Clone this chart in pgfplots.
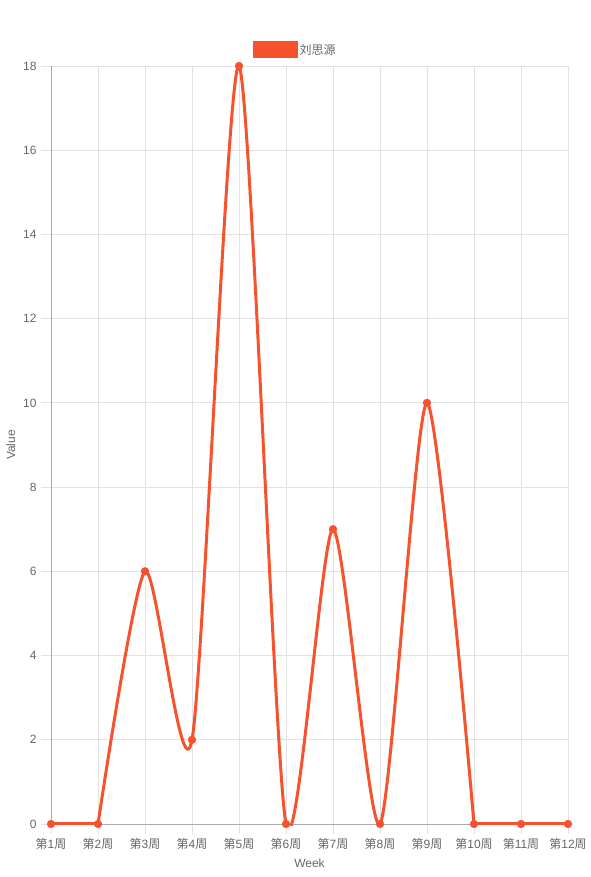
\documentclass[border=0pt]{standalone}
\usepackage{pgfplots}
\pgfplotsset{compat=1.18}
\usepackage{fontspec}
\setmainfont{Liberation Sans}
\newfontfamily\cjk{Noto Sans CJK SC}
\definecolor{txt}{HTML}{666666}
\definecolor{grd}{HTML}{E2E2E2}
\definecolor{axl}{HTML}{AAAAAA}
\definecolor{ln}{RGB}{245,82,45}
\begin{document}
\begin{tikzpicture}
\useasboundingbox (-51pt,-53pt) rectangle (539pt,824pt);
\begin{axis}[
  at={(0,0)}, anchor=south west,
  scale only axis, width=517pt, height=758pt,
  xmin=1, xmax=12, ymin=0, ymax=18,
  clip=false,
  xtick={1,...,12},
  xticklabels={{\cjk 第}1{\cjk 周},{\cjk 第}2{\cjk 周},{\cjk 第}3{\cjk 周},{\cjk 第}4{\cjk 周},{\cjk 第}5{\cjk 周},{\cjk 第}6{\cjk 周},{\cjk 第}7{\cjk 周},{\cjk 第}8{\cjk 周},{\cjk 第}9{\cjk 周},{\cjk 第}10{\cjk 周},{\cjk 第}11{\cjk 周},{\cjk 第}12{\cjk 周}},
  ytick={0,2,...,18},
  /pgf/number format/assume math mode=true,
  tick label style={font=\fontsize{12}{14}\selectfont, text=txt},
  yticklabel style={xshift=-1pt},
  xticklabel style={yshift=-1pt},
  grid=major, grid style={grd, line width=0.8pt},
  tick align=outside, major tick length=10pt,
  tick style={grd, line width=0.8pt},
  axis lines*=left,
  axis line style={axl, line width=0.8pt, -},
  xlabel={Week}, ylabel={Value},
  label style={font=\fontsize{12}{14}\selectfont, text=txt},
  xlabel style={yshift=-2pt},
  ylabel style={yshift=1pt},
  legend style={at={(0.5,1)}, anchor=center, yshift=16pt, xshift=-14.5pt, draw=none, fill=none,
    font=\fontsize{12}{14}\selectfont, text=txt},
  legend image code/.code={\fill[ln] (0pt,-7pt) rectangle (42pt,7pt);},
]
\addplot[ln, line width=3pt, sharp plot, forget plot] coordinates {(1,0) (2,0)};
\begin{scope}
\clip (axis cs:1,-0.04) rectangle (axis cs:12,18.04);
\addplot[ln, line width=3pt, smooth, tension=0.42]
coordinates {(2,0) (3,6) (4,2) (5,18) (6,0) (7,7) (8,0) (9,10) (10,0)};
\end{scope}
\addlegendentry{{\cjk 刘思源}}
\addplot[ln, line width=3pt, sharp plot, forget plot] coordinates {(10,0) (11,0) (12,0)};
\addplot[only marks, forget plot, mark=*, mark size=3.9pt, mark options={solid, fill=ln, draw=ln, line width=0.4pt}]
coordinates {(1,0) (2,0) (3,6) (4,2) (5,18) (6,0) (7,7) (8,0) (9,10) (10,0) (11,0) (12,0)};
\end{axis}
\end{tikzpicture}
\end{document}
